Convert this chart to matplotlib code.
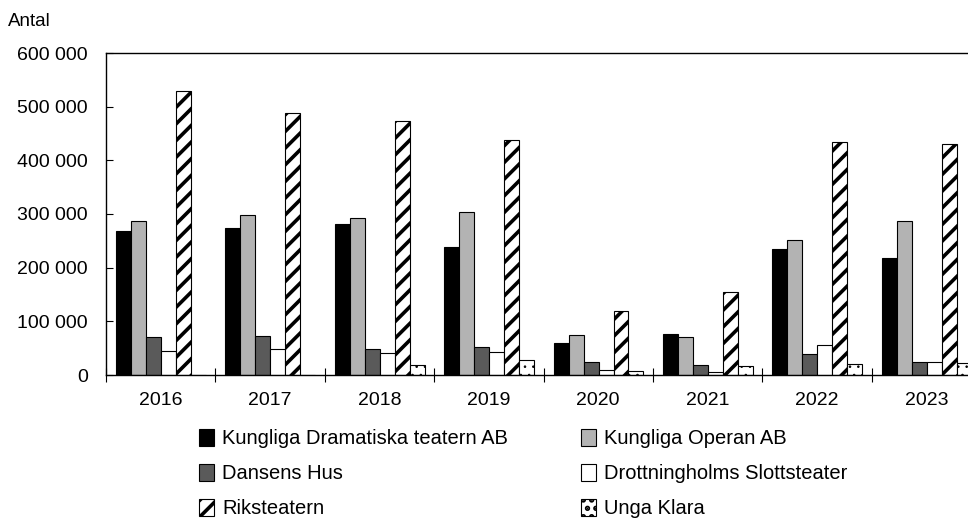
import numpy as np
import matplotlib
matplotlib.use("Agg")
import matplotlib.pyplot as plt
from matplotlib.ticker import FuncFormatter

plt.rcParams['font.family'] = ['Liberation Sans', 'DejaVu Sans']
plt.rcParams['hatch.linewidth'] = 2.6

# data
years = ["2016", "2017", "2018", "2019", "2020", "2021", "2022", "2023"]
dramaten = [268000, 274000, 282000, 238000, 60000, 76000, 234000, 218000]
operan = [287000, 298000, 292000, 303000, 75000, 70000, 252000, 287000]
dansens_hus = [70000, 73000, 48000, 52000, 25000, 19000, 40000, 25000]
drottningholm = [44000, 48000, 41000, 42000, 10000, 6000, 55000, 25000]
riksteatern = [530000, 488000, 473000, 438000, 119000, 155000, 434000, 430000]
unga_klara = [0, 0, 18000, 28000, 7000, 17000, 20000, 22000]

series = [
    ("Kungliga Dramatiska teatern AB", dramaten, "black", None),
    ("Kungliga Operan AB", operan, "#b3b3b3", None),
    ("Dansens Hus", dansens_hus, "#5a5a5a", None),
    ("Drottningholms Slottsteater", drottningholm, "white", None),
    ("Riksteatern", riksteatern, "white", "//"),
    ("Unga Klara", unga_klara, "white", ".."),
]

fig = plt.figure(figsize=(9.68, 5.22), dpi=100)
ax = fig.add_axes([106 / 968, 1 - 375 / 522, 875 / 968, 322 / 522])

x = np.arange(len(years))
w = 0.137
off = 0.092
handles = []
for k, (name, vals, col, hatch) in enumerate(series):
    bc = ax.bar(x + off + w * (k + 0.5), vals, width=w, color=col, edgecolor="black",
                linewidth=0.8, hatch=hatch, label=name)
    if hatch == "..":
        for p in bc:
            try:
                p.set_hatch_linewidth(0.6)
            except AttributeError:
                pass
    handles.append(bc)

ax.set_xlim(0, len(years))
ax.set_ylim(0, 600000)
ax.set_yticks(np.arange(0, 600001, 100000))
ax.yaxis.set_major_formatter(FuncFormatter(lambda v, p: f"{int(v):,}".replace(",", " ")))
ax.tick_params(axis="y", direction="in", length=5, labelsize=14, pad=13)

ax.set_xticks(np.arange(0, len(years) + 1))
ax.set_xticklabels([])
ax.tick_params(axis="x", which="major", direction="inout", length=10)
ax.set_xticks(x + 0.5, minor=True)
ax.set_xticklabels(years, minor=True)
ax.tick_params(axis="x", which="minor", length=0, labelsize=14, pad=12)

for s in ax.spines.values():
    s.set_linewidth(1.0)

fig.text(8 / 968, 1 - 21 / 522, "Antal", fontsize=13.5, va="center", ha="left")

# legend filled row by row as in the original
order = [0, 2, 4, 1, 3, 5]
fig.legend([handles[i] for i in order], [series[i][0] for i in order],
           loc="upper left", bbox_to_anchor=(199 / 968, 1 - 429 / 522), ncol=2,
           frameon=False, fontsize=14.5, handlelength=0.75, handleheight=0.9,
           handletextpad=0.4, columnspacing=3.6, labelspacing=0.78,
           borderaxespad=0, borderpad=0)

fig.savefig("out.png", dpi=100)
